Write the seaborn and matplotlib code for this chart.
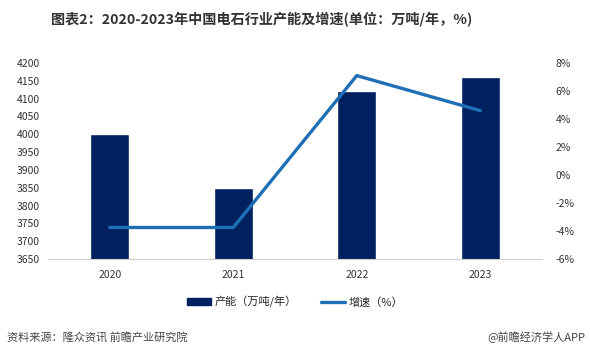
import seaborn as sns
import pandas as pd
import numpy as np
import matplotlib.pyplot as plt
from matplotlib.ticker import FuncFormatter
from matplotlib.patches import Patch
from matplotlib.lines import Line2D

years = ["2020", "2021", "2022", "2023"]
capacity = [4000, 3850, 4122, 4160]
growth = [-3.75, -3.75, 7.1, 4.6]

df = pd.DataFrame({"year": years, "capacity": capacity, "growth": growth})

sns.set_theme(style="white")
plt.rcParams["font.family"] = ["Noto Sans CJK SC", "DejaVu Sans"]

fig = plt.figure(figsize=(5.9, 3.56), dpi=100)
ax = fig.add_axes([0.0814, 0.2725, 0.8372, 0.5505])

bar_color = "#002060"
line_color = "#1f6fb6"

sns.barplot(data=df, x="year", y="capacity", color=bar_color, width=0.316,
            saturation=1, ax=ax)
ax.set_ylim(3650, 4200)
ax.set_yticks(range(3650, 4201, 50))
ax.set_xlim(-0.5, 3.5)
ax.set_xlabel("")
ax.set_ylabel("")

ax2 = ax.twinx()
sns.lineplot(x=np.arange(len(years)), y=df["growth"], color=line_color,
             linewidth=2.4, ax=ax2)
ax2.set_ylim(-6, 8)
ax2.set_yticks(range(-6, 9, 2))
ax2.yaxis.set_major_formatter(FuncFormatter(lambda v, p: f"{v:.0f}%"))
ax2.set_ylabel("")

for a in (ax, ax2):
    for s in a.spines.values():
        s.set_visible(False)
    a.tick_params(length=0, labelsize=7.5, colors="#333333")
ax.spines["bottom"].set_visible(True)
ax.spines["bottom"].set_color("#d0d0d0")
ax.spines["bottom"].set_linewidth(0.8)
ax.tick_params(axis="x", pad=8)
ax.tick_params(axis="y", pad=6)
ax2.tick_params(axis="y", pad=10)

# legend
handles = [Patch(color=bar_color), Line2D([0], [0], color=line_color, lw=2.4)]
fig.legend(handles, ["产能（万吨/年）", "增速（%）"], loc="center",
           bbox_to_anchor=(0.5, 0.152), ncol=2, frameon=False, fontsize=8,
           handlelength=2.2, handleheight=0.5, handletextpad=0.3,
           columnspacing=2.2)

fig.text(0.443, 0.944, "图表2：2020-2023年中国电石行业产能及增速(单位：万吨/年，%)",
         ha="center", va="center", fontsize=10.2, fontweight="bold",
         color="#333333")
fig.text(0.012, 0.053, "资料来源：隆众资讯 前瞻产业研究院", ha="left", va="center",
         fontsize=8, color="#444444")
fig.text(0.992, 0.053, "@前瞻经济学人APP", ha="right", va="center",
         fontsize=8, color="#444444")

fig.savefig("out.png", dpi=100)
